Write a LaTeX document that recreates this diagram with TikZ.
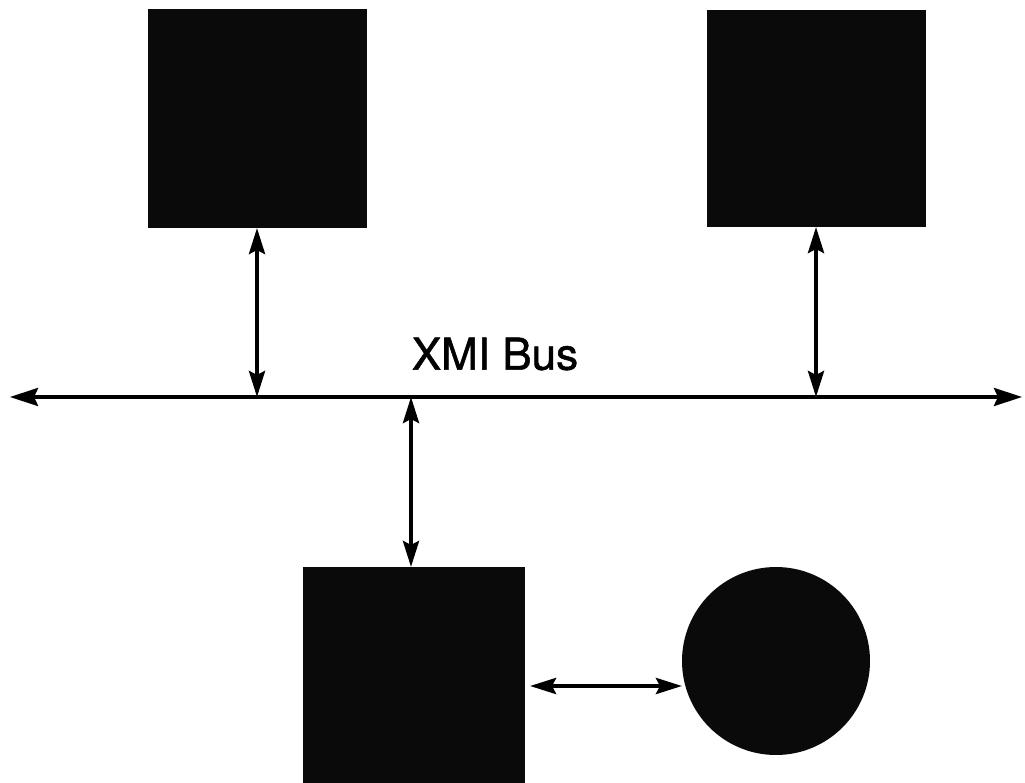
\documentclass[tikz,border=0pt]{standalone}
\usepackage{fontspec}
\setmainfont{TeX Gyre Heros}
\usetikzlibrary{arrows.meta}
\begin{document}
\begin{tikzpicture}[x=1pt,y=-1pt,
  blk/.style={fill=black!96,draw=none,inner sep=0pt,outer sep=0pt},
  tip/.style={Stealth[length=26pt,width=16pt,inset=4pt]},
  conn/.style={line width=4pt,{Stealth[length=26pt,width=16pt,inset=4pt]}-{Stealth[length=26pt,width=16pt,inset=4pt]}},
  busline/.style={line width=4pt,{Stealth[length=28pt,width=18pt,inset=4pt]}-{Stealth[length=28pt,width=18pt,inset=4pt]}}]
\useasboundingbox (0,0) rectangle (1025,783);
\node[blk,minimum width=219pt,minimum height=219pt] (tl) at (257.5,118.5) {};
\node[blk,minimum width=219pt,minimum height=217pt] (tr) at (816.5,118.5) {};
\node[blk,minimum width=222pt,minimum height=220pt] (bm) at (414,677) {};
\node[blk,circle,minimum size=188pt] (c) at (776,661) {};
\coordinate (bl) at (10,397);
\coordinate (br) at (1022,397);
\coordinate (b1) at (257,397);
\coordinate (b2) at (816,397);
\coordinate (b3) at (411,397);
\draw[busline] (bl) -- (br);
\node[font=\fontsize{44}{44}\selectfont\addfontfeature{FakeBold=1.2},inner sep=0pt] (lbl) at (495,354) {XMI Bus};
\draw[conn] (tl.south -| b1) -- (b1);
\draw[conn] (tr.south -| b2) -- (b2);
\draw[conn] (b3) -- (bm.north -| b3);
\draw[conn] ([xshift=5pt]bm.east |- 0,686) -- (c.west |- 0,686);
\end{tikzpicture}
\end{document}
